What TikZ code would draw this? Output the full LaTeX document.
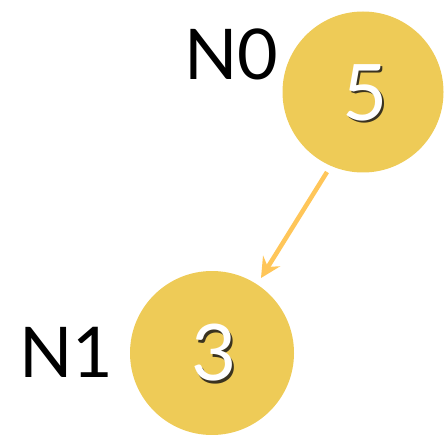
\documentclass[tikz,border=0pt]{standalone}
\usepackage{fontspec}
\setmainfont{Lato}
\usetikzlibrary{arrows.meta}
\definecolor{disk}{HTML}{EECB57}
\definecolor{arrowc}{HTML}{FFC659}
\definecolor{shade}{HTML}{3A3320}
\newcommand{\shadowed}[1]{\makebox[0pt][l]{\kern2.5pt\raisebox{-2.5pt}{\textcolor{shade}{#1}}}\textcolor{white}{#1}}
\tikzset{
  nodedisk/.style={circle, fill=disk, minimum size=#1, inner sep=0pt},
  lbl/.style={font=\fontsize{70}{70}\selectfont, text=black, inner sep=0pt},
  num/.style={font=\fontsize{78}{78}\selectfont, inner sep=0pt},
  edge/.style={draw=arrowc, line width=4.5pt, -{Stealth[length=20pt,width=20pt,inset=7pt]}}
}
\begin{document}
\begin{tikzpicture}[x=1pt,y=1pt]
\useasboundingbox (0,0) rectangle (446,434);
\node[nodedisk=161pt] (n0) at (363,342) {};
\node[nodedisk=164pt] (n1) at (212,81) {};
\node[num] (v0) at (365,340) {\shadowed{5}};
\node[num] (v1) at (214,80) {\shadowed{3}};
\node[lbl, anchor=south west] (l0) at (184,354) {N0};
\node[lbl, anchor=south west] (l1) at (19,56) {N1};
\coordinate (a0) at (327,262);
\coordinate (a1) at (261,156);
\draw[edge] (a0) -- (a1);
\end{tikzpicture}
\end{document}
